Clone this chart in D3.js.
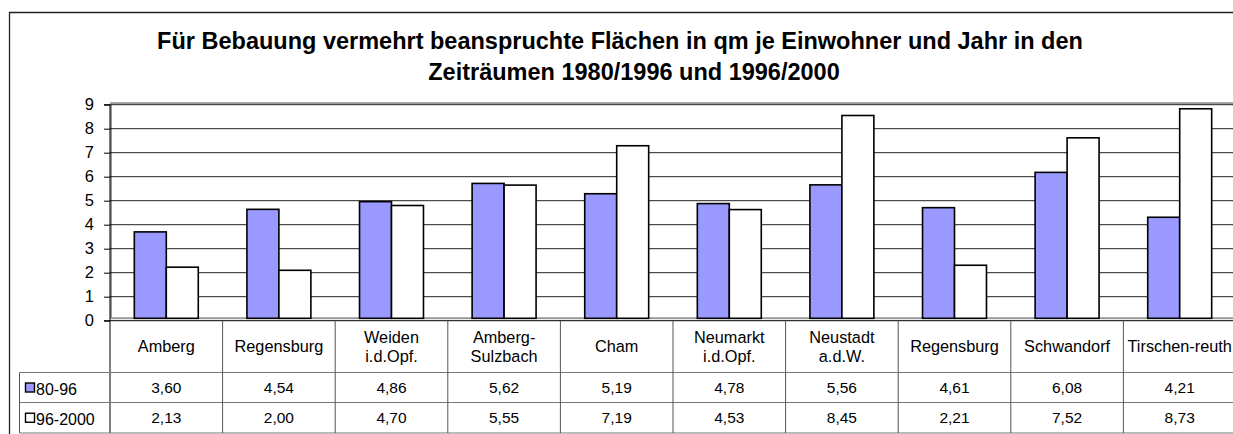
<!DOCTYPE html>
<html>
<head>
<meta charset="utf-8">
<script src="https://cdn.jsdelivr.net/npm/d3@7"></script>
<style>
  body { margin: 0; background: #fff; }
  svg text { font-family: Arial, "Liberation Sans", sans-serif; fill: #000; }
</style>
</head>
<body>
<svg id="chart" width="1233" height="434"></svg>
<script>
// data
const categories = ['Amberg', 'Regensburg', 'Weiden\ni.d.Opf.', 'Amberg-\nSulzbach', 'Cham',
  'Neumarkt\ni.d.Opf.', 'Neustadt\na.d.W.', 'Regensburg', 'Schwandorf', 'Tirschen-reuth'];
const seriesNames = ['80-96', '96-2000'];
const values8096 = [3.60, 4.54, 4.86, 5.62, 5.19, 4.78, 5.56, 4.61, 6.08, 4.21];
const values9600 = [2.13, 2.00, 4.70, 5.55, 7.19, 4.53, 8.45, 2.21, 7.52, 8.73];
const yTicks = [0, 1, 2, 3, 4, 5, 6, 7, 8, 9];
const titleLines = ['Für Bebauung vermehrt beanspruchte Flächen in qm je Einwohner und Jahr in den',
  'Zeiträumen 1980/1996 und 1996/2000'];

const colors = ['#9999ff', '#ffffff'];
const series = [values8096, values9600];

const svg = d3.select('#chart');

// plot geometry
const plotLeft = 110;
const bandW = 112.6;
const plotRight = plotLeft + bandW * categories.length;
const y0 = 320.7;
const yTop = 104.7;
const barLift = 2.4; // Excel draws the bars slightly above the axis line
const rowLines = [320.7, 372.5, 402.5, 433];

const x = d3.scaleBand()
  .domain(d3.range(categories.length))
  .range([plotLeft, plotRight])
  .padding(0);

const x1 = d3.scaleBand()
  .domain(d3.range(seriesNames.length))
  .range([bandW * 0.216, bandW * 0.784])
  .padding(0);

const y = d3.scaleLinear().domain([0, 9]).range([y0, yTop]);

// outer chart border
svg.append('path')
  .attr('d', `M9.5,434 V12.5 H1240`)
  .attr('fill', 'none')
  .attr('stroke', '#222')
  .attr('stroke-width', 1.3);

// title
svg.selectAll('.title')
  .data(titleLines)
  .enter()
  .append('text')
  .attr('class', 'title')
  .attr('x', (d, i) => i === 0 ? 620 : 634)
  .attr('y', (d, i) => 48.5 + i * 31.5)
  .attr('text-anchor', 'middle')
  .attr('font-size', 23.5)
  .attr('font-weight', 'bold')
  .text(d => d);

// plot area frame
svg.append('rect')
  .attr('x', plotLeft + 1)
  .attr('y', yTop - 1.5)
  .attr('width', plotRight - plotLeft)
  .attr('height', y0 - yTop - 1)
  .attr('fill', 'none')
  .attr('stroke', '#999')
  .attr('stroke-width', 2);

// gridlines
svg.selectAll('.grid')
  .data(yTicks.filter(d => d > 0))
  .enter()
  .append('line')
  .attr('class', 'grid')
  .attr('x1', plotLeft)
  .attr('x2', plotRight)
  .attr('y1', d => y(d))
  .attr('y2', d => y(d))
  .attr('stroke', '#222')
  .attr('stroke-width', 1);

// y axis
const yAxis = d3.axisLeft(y)
  .tickValues(yTicks)
  .tickSize(6)
  .tickPadding(10)
  .tickFormat(d3.format('d'));

const gy = svg.append('g')
  .attr('transform', `translate(${plotLeft},0)`)
  .call(yAxis);
gy.select('.domain').attr('stroke', '#000').attr('d', `M-6,${yTop}H0V${rowLines[3]}`);
gy.selectAll('.tick line').attr('stroke', '#000');
gy.selectAll('.tick text')
  .attr('font-size', 16.5)
  .attr('font-family', 'Arial, "Liberation Sans", sans-serif')
  .attr('fill', '#000');

// bars
const groups = svg.selectAll('.cat')
  .data(categories)
  .enter()
  .append('g')
  .attr('class', 'cat')
  .attr('transform', (d, i) => `translate(${x(i)},0)`);

groups.selectAll('rect')
  .data((d, i) => series.map((s, k) => ({ k, v: s[i] })))
  .enter()
  .append('rect')
  .attr('x', d => x1(d.k))
  .attr('width', x1.bandwidth())
  .attr('y', d => y(d.v) - barLift)
  .attr('height', d => y(0) - y(d.v))
  .attr('fill', d => colors[d.k])
  .attr('stroke', '#000')
  .attr('stroke-width', 1.6);

// data table: horizontal lines
svg.append('line')
  .attr('x1', plotLeft - 6).attr('x2', plotRight)
  .attr('y1', rowLines[0]).attr('y2', rowLines[0])
  .attr('stroke', '#000');
svg.selectAll('.hrow')
  .data(rowLines.slice(1))
  .enter()
  .append('line')
  .attr('class', 'hrow')
  .attr('x1', 19.5).attr('x2', plotRight)
  .attr('y1', d => d).attr('y2', d => d)
  .attr('stroke', '#777');

svg.append('line')
  .attr('x1', 19.5).attr('x2', 19.5)
  .attr('y1', rowLines[1]).attr('y2', rowLines[3])
  .attr('stroke', '#555');

// column separators
svg.selectAll('.vcol')
  .data(d3.range(1, categories.length + 1))
  .enter()
  .append('line')
  .attr('class', 'vcol')
  .attr('x1', i => x(i - 1) + bandW)
  .attr('x2', i => x(i - 1) + bandW)
  .attr('y1', rowLines[0]).attr('y2', rowLines[3])
  .attr('stroke', '#555');

// category labels
const headerMid = (rowLines[0] + rowLines[1]) / 2;
groups.append('text')
  .attr('text-anchor', 'middle')
  .attr('font-size', 16.3)
  .each(function(d) {
    const lines = d.split('\n');
    const t = d3.select(this);
    lines.forEach((ln, j) => {
      t.append('tspan')
        .attr('x', bandW / 2)
        .attr('y', headerMid + (j - (lines.length - 1) / 2) * 19)
        .attr('dy', '0.35em')
        .text(ln);
    });
  });

// values
const fmt = v => v.toFixed(2).replace('.', ',');
series.forEach((s, k) => {
  const mid = (rowLines[k + 1] + rowLines[k + 2]) / 2;
  svg.selectAll('.val' + k)
    .data(s)
    .enter()
    .append('text')
    .attr('class', 'val' + k)
    .attr('x', (d, i) => x(i) + bandW / 2)
    .attr('y', mid)
    .attr('dy', '0.35em')
    .attr('text-anchor', 'middle')
    .attr('font-size', 15.5)
    .text(d => fmt(d));

  // legend key + name
  svg.append('rect')
    .attr('x', 25.5)
    .attr('y', mid - 4.5)
    .attr('width', 9)
    .attr('height', 9)
    .attr('fill', colors[k])
    .attr('stroke', '#000')
    .attr('stroke-width', 1.4);
  svg.append('text')
    .attr('x', 36)
    .attr('y', mid + 2)
    .attr('dy', '0.35em')
    .attr('font-size', 16)
    .text(seriesNames[k]);
});
</script>
</body>
</html>
